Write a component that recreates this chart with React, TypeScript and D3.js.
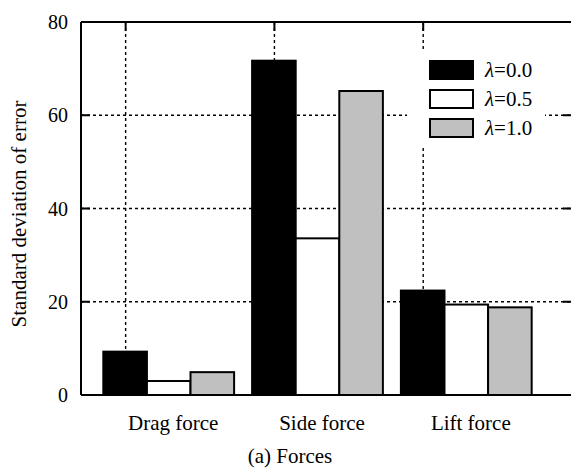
import React from "react";
import * as d3 from "d3";

const categories = ["Drag force", "Side force", "Lift force"];
const seriesNames = ["λ=0.0", "λ=0.5", "λ=1.0"];
const lambda00 = [9.3, 71.7, 22.4];
const lambda05 = [3.0, 33.6, 19.4];
const lambda10 = [4.9, 65.2, 18.8];
const yTicks = [0, 20, 40, 60, 80];

const seriesValues = [lambda00, lambda05, lambda10];
const fills = ["#000000", "#ffffff", "#c0c0c0"];

const W = 571;
const H = 469;
const left = 81;
const right = 572;
const top = 22;
const bottom = 395;
const FONT = '"Liberation Serif", "Times New Roman", serif';

export default function App() {
  const x = d3.scaleLinear().domain([-0.3, 3.0]).range([left, right]);
  const y = d3.scaleLinear().domain([0, 80]).range([bottom, top]);
  const barW = 0.293;
  const barStart = -0.15;
  const tickLen = 9;

  const bars: JSX.Element[] = [];
  categories.forEach((c, i) => {
    seriesValues.forEach((vals, j) => {
      const x0 = x(i + barStart + j * barW);
      const x1 = x(i + barStart + (j + 1) * barW);
      bars.push(
        <rect
          key={`${c}-${j}`}
          x={x0}
          y={y(vals[i])}
          width={x1 - x0}
          height={y(0) - y(vals[i])}
          fill={fills[j]}
          stroke="#000"
          strokeWidth={2}
        />
      );
    });
  });

  const legendX = 430;
  const legendY = 61;
  const legendStep = 29;

  return (
    <svg
      width={W}
      height={H}
      style={{ position: "absolute", left: 0, top: 0, background: "#fff" }}
      fontFamily={FONT}
    >
      <rect x={0} y={0} width={W} height={H} fill="#fff" />
      {/* grid */}
      <g stroke="#000" strokeWidth={1.4} strokeDasharray="3,3">
        {yTicks
          .filter((t) => t > 0 && t < 80)
          .map((t) => (
            <line key={`gy${t}`} x1={left} x2={right} y1={y(t)} y2={y(t)} />
          ))}
        {categories.map((c, i) => (
          <line key={`gx${c}`} x1={x(i)} x2={x(i)} y1={top} y2={bottom} />
        ))}
      </g>
      {/* legend background */}
      <rect x={407} y={52} width={138} height={95} fill="#fff" />
      {bars}
      {/* frame */}
      <g stroke="#000" strokeWidth={2} fill="none">
        <line x1={left} x2={right} y1={top} y2={top} />
        <line x1={left} x2={right} y1={bottom} y2={bottom} />
        <line x1={left} x2={left} y1={top} y2={bottom} />
        <line x1={right} x2={right} y1={top} y2={bottom} />
        {yTicks.map((t) => (
          <g key={`yt${t}`}>
            <line x1={left} x2={left + tickLen} y1={y(t)} y2={y(t)} />
            <line x1={right - tickLen} x2={right} y1={y(t)} y2={y(t)} />
          </g>
        ))}
        {categories.map((c, i) => (
          <g key={`xt${c}`}>
            <line x1={x(i)} x2={x(i)} y1={bottom} y2={bottom - tickLen} />
            <line x1={x(i)} x2={x(i)} y1={top} y2={top + tickLen} />
          </g>
        ))}
      </g>
      {/* y tick labels */}
      {yTicks.map((t) => (
        <text
          key={`yl${t}`}
          x={68}
          y={y(t)}
          dy="0.35em"
          textAnchor="end"
          fontSize={20}
          fill="#000"
        >
          {t}
        </text>
      ))}
      {/* category labels */}
      {categories.map((c, i) => (
        <text
          key={`cl${c}`}
          x={x(i + 0.32)}
          y={430}
          textAnchor="middle"
          fontSize={21}
          fill="#000"
        >
          {c}
        </text>
      ))}
      <text x={290} y={463} textAnchor="middle" fontSize={21} fill="#000">
        (a) Forces
      </text>
      {/* y axis title */}
      <text
        transform={`translate(26, 214) rotate(-90)`}
        textAnchor="middle"
        fontSize={21}
        fill="#000"
      >
        Standard deviation of error
      </text>
      {/* legend */}
      {seriesNames.map((s, j) => (
        <g key={`lg${s}`}>
          <rect
            x={legendX}
            y={legendY + j * legendStep}
            width={43}
            height={18}
            fill={fills[j]}
            stroke="#000"
            strokeWidth={2}
          />
          <text
            x={legendX + 55}
            y={legendY + j * legendStep + 16}
            fontSize={21}
            fill="#000"
          >
            <tspan fontStyle="italic">{s.slice(0, 1)}</tspan>
            {s.slice(1)}
          </text>
        </g>
      ))}
    </svg>
  );
}
